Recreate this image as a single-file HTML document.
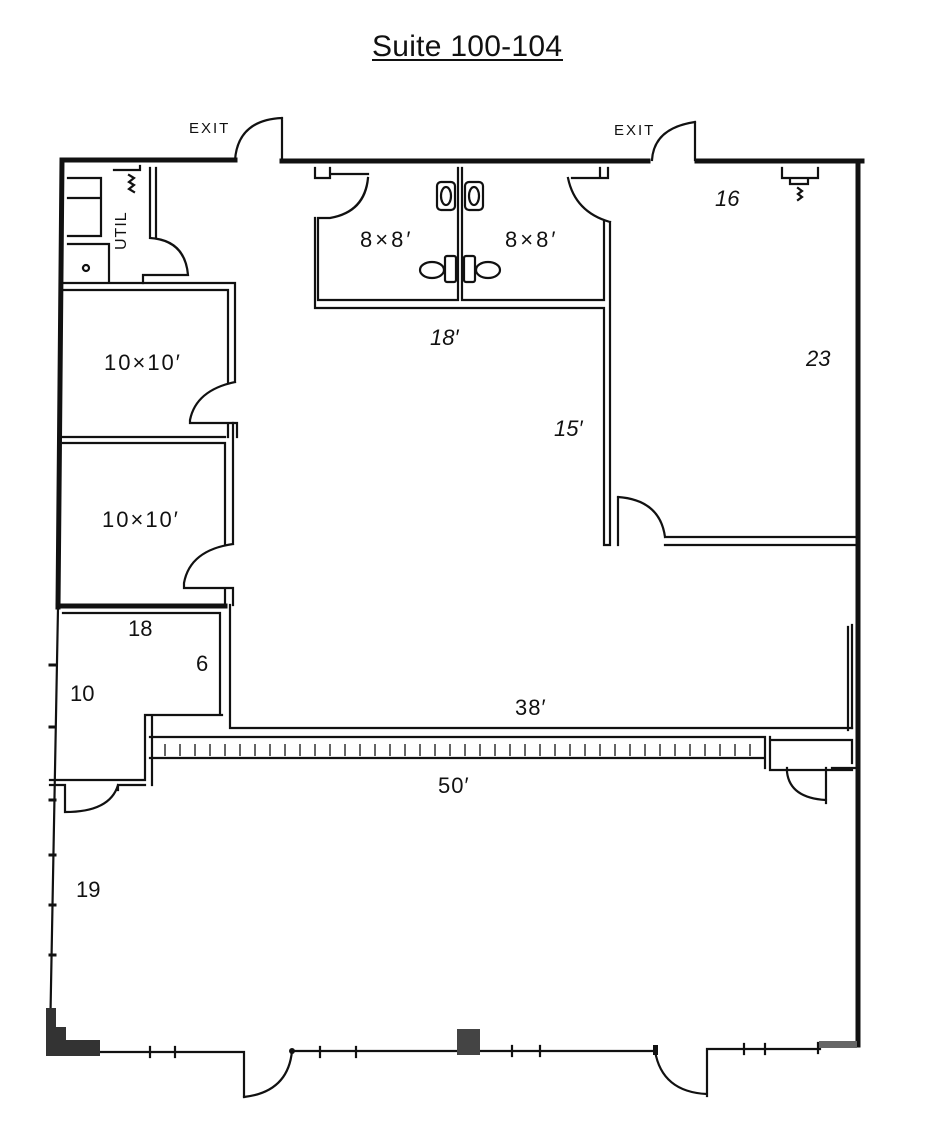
<!DOCTYPE html>
<html><head><meta charset="utf-8"><style>
html,body{margin:0;padding:0;background:#fff;}
svg{display:block;}
text{font-family:"Liberation Sans",sans-serif;fill:#111;}
</style></head><body>
<svg width="929" height="1147" viewBox="0 0 929 1147" xmlns="http://www.w3.org/2000/svg">
<rect width="929" height="1147" fill="#fff"/>
<text x="467" y="56" font-size="30" text-anchor="middle" textLength="190">Suite 100-104</text>
<line x1="372" y1="60" x2="563" y2="60" stroke="#111" stroke-width="2"/>
<g fill="none" stroke="#111" stroke-linecap="square">
<g stroke-width="5">
<path d="M63 160 H235 M282 161 H648 M697 161 H862 M858 162 V1045 M62 160 L58 607"/>
<path d="M58 606 H225"/>
</g>
<g stroke-width="2.2">
<path d="M282 118 V160 M282 118 Q238 120 235 160 M695 122 V160 M695 122 Q654 128 652 160"/>
<path d="M68 178 H101 V236 H68 M68 198 H101 M68 244 H109 V282 M150 168 V238 H150 M156 168 V238 M150 238 Q185 240 188 275 H143 V283 M114 170 H140 V166"/>
<path d="M86 268 m-3 0 a3 3 0 1 0 6 0 a3 3 0 1 0 -6 0"/>
<path d="M129 175 l5 3 -5 4 5 3 -5 4 5 3"/>
<path d="M63 283 H235 V382 M63 290 H228 V382 M235 382 Q196 390 190 420 V423 H237 V437 M228 423 V437"/>
<path d="M63 437 H225 M63 443 H225 V544 M233 423 V544 M233 544 Q190 550 184 583 V588 H233 V605 M225 588 V605"/>
<path d="M58 608 L50 1040 M63 613 H220 V715 M230 605 V728 H852 M222 715 H145 V780 M152 715 V785 M145 780 H50 M145 785 H118 M65 785 H50 M65 785 V812 M118 785 V790 M65 812 Q110 812 118 785"/>
<path d="M50 665 h5 M50 727 h5 M50 800 h5 M50 855 h5 M50 905 h5 M50 955 h5" stroke-width="3"/>
<path d="M150 737 H765 M150 758 H765 M765 737 V768 M770 737 V770 H852 M770 740 H852 V763"/>
<path d="M852 625 V728 M848 627 V730"/>
<path d="M787 768 V772 Q790 798 826 800 M826 768 V803 M832 768 H856"/>
<path d="M315 168 V178 H330 V168 M330 174 H368 M368 178 Q365 212 330 218 H318 M318 218 V300 H458 M458 168 V300 M462 168 V300 H604 M604 222 V300 M315 218 V308 H604 M604 308 V545 H610 V222 M610 222 Q575 212 568 178 M572 178 H600 V168 M600 178 H608 V168"/>
<path d="M618 497 V545 M618 497 Q660 500 665 537 M665 537 H856 M665 545 H856"/>
<rect x="437" y="182" width="18" height="28" rx="4"/><rect x="465" y="182" width="18" height="28" rx="4"/>
<ellipse cx="446" cy="196" rx="5" ry="9"/><ellipse cx="474" cy="196" rx="5" ry="9"/>
<rect x="445" y="256" width="11" height="26" rx="2"/><rect x="464" y="256" width="11" height="26" rx="2"/>
<ellipse cx="432" cy="270" rx="12" ry="8"/><ellipse cx="488" cy="270" rx="12" ry="8"/>
<path d="M782 168 V178 H818 V168 M790 178 V184 H808 V178 M798 188 l4 3 -4 3 4 3 -4 3"/>
<path d="M100 1052 H244 M292 1051 H655 M707 1049 H820 M244 1052 V1097 M244 1097 Q288 1092 292 1051 M655 1051 Q662 1092 707 1094 M707 1049 V1096"/>
<path d="M150 1047 v10 M175 1047 v10 M320 1047 v10 M356 1047 v10 M512 1046 v10 M540 1046 v10 M744 1044 v10 M765 1044 v10 M818 1043 v10"/>
</g>
</g>
<path d="M46 1008 H56 V1027 H66 V1040 H100 V1056 H46 Z" fill="#333"/>
<rect x="457" y="1029" width="23" height="26" fill="#444"/>
<rect x="819" y="1041" width="38" height="7" fill="#666"/>
<circle cx="292" cy="1051" r="3" fill="#111"/><rect x="653" y="1045" width="5" height="10" fill="#111"/>
<g stroke="#111" stroke-width="1.3">
<path d="M165 744v12M180 744v12M195 744v12M210 744v12M225 744v12M240 744v12M255 744v12M270 744v12M285 744v12M300 744v12M315 744v12M330 744v12M345 744v12M360 744v12M375 744v12M390 744v12M405 744v12M420 744v12M435 744v12M450 744v12M465 744v12M480 744v12M495 744v12M510 744v12M525 744v12M540 744v12M555 744v12M570 744v12M585 744v12M600 744v12M615 744v12M630 744v12M645 744v12M660 744v12M675 744v12M690 744v12M705 744v12M720 744v12M735 744v12M750 744v12"/>
</g>
<g font-size="22" font-style="italic">
<text x="189" y="133" font-size="15" font-style="normal" letter-spacing="2">EXIT</text>
<text x="614" y="135" font-size="15" font-style="normal" letter-spacing="2">EXIT</text>
<text x="126" y="250" font-size="16" font-style="normal" transform="rotate(-90 126 250)" letter-spacing="1">UTIL</text>
<text x="360" y="247" font-style="normal" letter-spacing="3">8×8′</text>
<text x="505" y="247" font-style="normal" letter-spacing="3">8×8′</text>
<text x="104" y="370" font-style="normal" letter-spacing="2">10×10′</text>
<text x="102" y="527" font-style="normal" letter-spacing="2">10×10′</text>
<text x="430" y="345">18′</text>
<text x="715" y="206">16</text>
<text x="806" y="366">23</text>
<text x="554" y="436">15′</text>
<text x="128" y="636" font-style="normal">18</text>
<text x="196" y="671" font-style="normal">6</text>
<text x="70" y="701" font-style="normal">10</text>
<text x="515" y="715" font-style="normal" letter-spacing="1">38′</text>
<text x="438" y="793" font-style="normal" letter-spacing="1">50′</text>
<text x="76" y="897" font-style="normal">19</text>
</g>
</svg>
</body></html>
